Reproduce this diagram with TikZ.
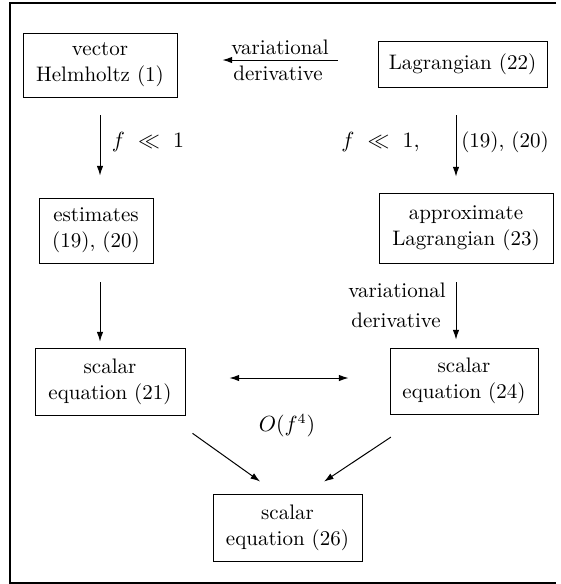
\documentclass[tikz,border=0pt]{standalone}
\usetikzlibrary{arrows.meta,calc}
\newcommand{\fsz}{\fontsize{10.5pt}{13pt}\selectfont}
\begin{document}
\begin{tikzpicture}[x=0.5pt,y=-0.5pt,
  box/.style={draw, line width=0.45pt, align=center, inner sep=0pt, font=\fsz},
  arr/.style={-{Latex[length=4.8pt,width=3.2pt]}, line width=0.5pt},
  darr/.style={{Latex[length=4.8pt,width=3.2pt]}-{Latex[length=4.8pt,width=3.2pt]}, line width=0.5pt},
  lbl/.style={font=\fsz, inner sep=0pt}]
\useasboundingbox (0,0) rectangle (561,584);
\draw[line width=1pt] (556,2.5) -- (10,2.5) -- (10,582.5) -- (556,582.5);

\node[box, minimum width=77pt, minimum height=32pt] (helm) at (100,65) {vector\\Helmholtz (1)};
\node[box, minimum width=84.5pt, minimum height=23pt] (lag22) at (462.5,64) {Lagrangian (22)};
\node[box, minimum width=57pt, minimum height=32.5pt] (est) at (96,230.5) {estimates\\(19), (20)};
\node[box, minimum width=87pt, minimum height=35pt] (lag23) at (466,228) {approximate\\Lagrangian (23)};
\node[box, minimum width=75pt, minimum height=33.5pt] (s21) at (110,381.5) {scalar\\equation (21)};
\node[box, minimum width=74pt, minimum height=33pt] (s24) at (464,381) {scalar\\equation (24)};
\node[box, minimum width=74.5pt, minimum height=33.5pt] (s26) at (287.5,527.5) {scalar\\equation (26)};

% top horizontal arrow
\draw[arr, shorten <=20pt, shorten >=22.5pt] ($(lag22.west)+(0,-4)$) -- ($(helm.east)+(0,-5)$);
\node[lbl] (va1) at (280,47) {variational};
\node[lbl] (de1) at (278,73.5) {derivative};

% first row vertical arrows
\draw[arr, shorten <=9pt, shorten >=11pt] (helm.south) -- (helm.south |- est.north);
\node[lbl] (f1) at (148,142) {$f\ \ll\ 1$};
\draw[arr, shorten <=14pt, shorten >=8pt] ($(lag22.south)+(-6.5,0)$) coordinate (r1) -- (r1 |- lag23.north);
\node[lbl] (f2) at (380.5,142) {$f\ \ll\ 1,$};
\node[lbl] (nn) at (505,142) {(19), (20)};

% second row vertical arrows
\draw[arr, shorten <=9.5pt, shorten >=3pt] ($(est.south)+(4,0)$) coordinate (l2) -- (l2 |- s21.north);
\draw[arr, shorten <=9.5pt, shorten >=4pt] ($(lag23.south)+(-10,0)$) coordinate (r2) -- (r2 |- s24.north);
\node[lbl] (va2) at (397,290) {variational};
\node[lbl] (de2) at (396,320) {derivative};

% double arrow
\draw[darr, shorten <=22pt, shorten >=20.5pt] ($(s21.east)+(0,-3.5)$) -- ($(s24.west)+(0,-3)$);
\node[lbl] (o4) at (287,426) {$O(f^4)$};

% diagonal arrows
\draw[arr, shorten <=15.4pt, shorten >=10.4pt] ($(s21.south east)+(-18,0)$) -- ($(s26.north)+(-10.5,0)$);
\draw[arr, shorten <=20.5pt, shorten >=10.8pt] ($(s24.south)+(-39,0)$) -- ($(s26.north)+(18.5,0)$);
\end{tikzpicture}
\end{document}
